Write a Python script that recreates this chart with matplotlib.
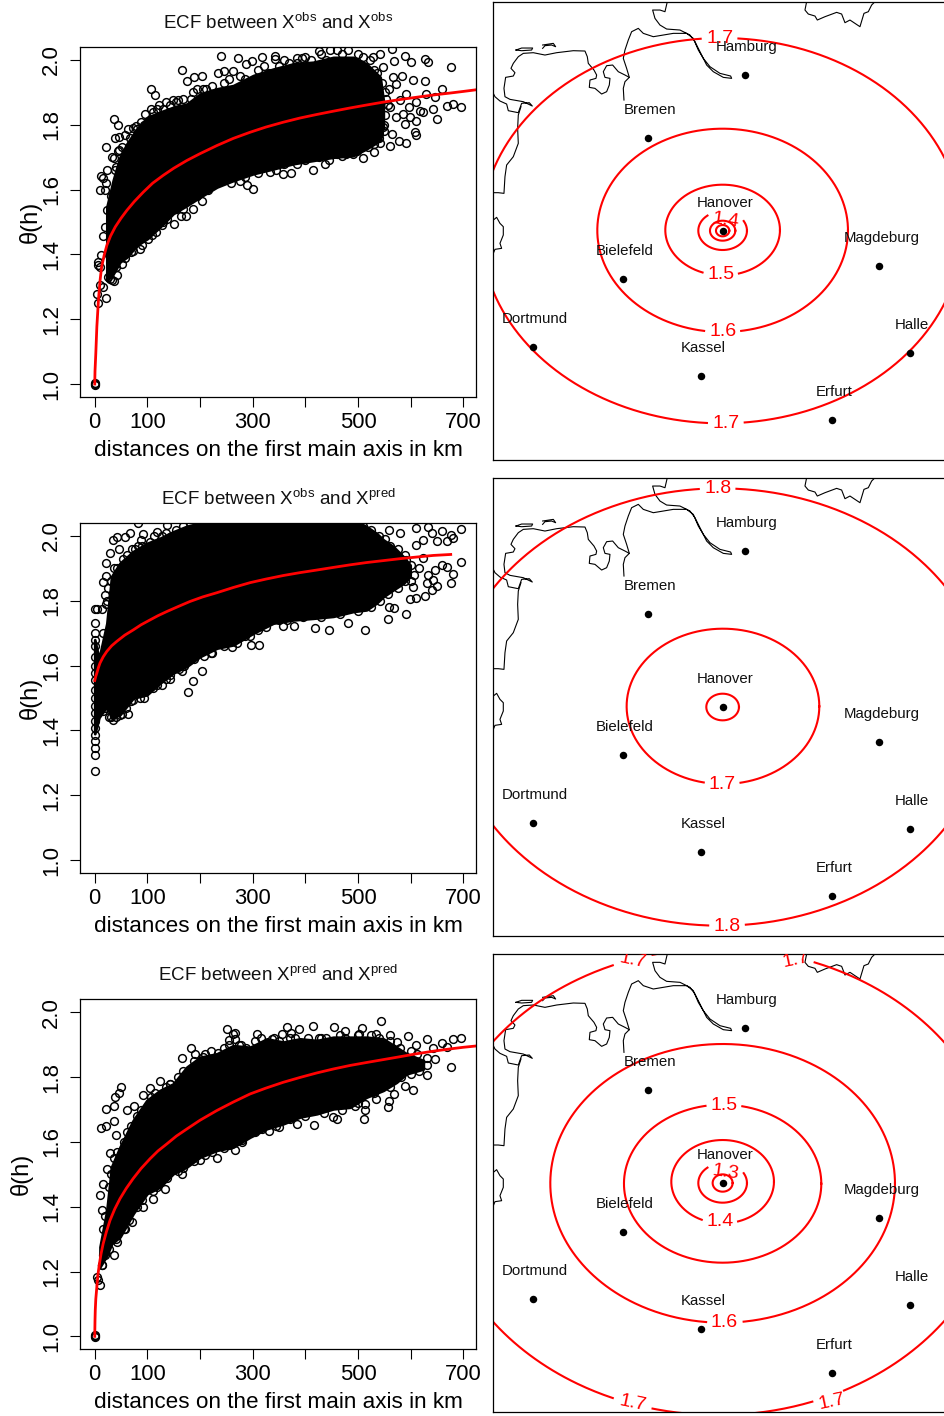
import numpy as np
import matplotlib
matplotlib.use('Agg')
import matplotlib.pyplot as plt

plt.rcParams['font.family'] = ['Liberation Sans', 'DejaVu Sans']
plt.rcParams['mathtext.default'] = 'regular'

# ---- left column: dense part of each cloud, read as upper / lower edge (km, theta)
cloud1_km = [23, 35, 48, 61, 80, 100, 124, 149, 175, 200, 232, 263, 301, 339, 377, 415, 453, 491, 516, 542, 548]
cloud1_up = [1.546, 1.628, 1.70, 1.741, 1.787, 1.823, 1.839, 1.854, 1.864, 1.895, 1.911, 1.921, 1.952, 1.972, 1.988, 1.993, 2.008, 2.008, 1.988, 1.947, 1.875]
cloud1_lo = [1.32, 1.34, 1.377, 1.392, 1.428, 1.449, 1.485, 1.526, 1.551, 1.577, 1.608, 1.628, 1.649, 1.664, 1.68, 1.69, 1.70, 1.705, 1.726, 1.752, 1.793]

cloud2_km = [0, 8, 23, 32, 48, 73, 99, 124, 149, 175, 200, 232, 263, 301, 339, 377, 415, 453, 491, 516, 535, 548, 567, 586, 599]
cloud2_up = [1.68, 1.62, 1.73, 1.875, 1.916, 1.952, 1.977, 1.993, 2.013, 2.03, 2.04, 2.05, 2.05, 2.05, 2.05, 2.05, 2.05, 2.05, 2.05, 2.029, 2.008, 1.988, 1.967, 1.936, 1.91]
cloud2_lo = [1.39, 1.44, 1.474, 1.438, 1.449, 1.50, 1.51, 1.546, 1.577, 1.598, 1.628, 1.654, 1.664, 1.70, 1.731, 1.741, 1.746, 1.752, 1.767, 1.772, 1.793, 1.813, 1.834, 1.854, 1.875]

cloud3_km = [10, 23, 32, 48, 73, 99, 124, 149, 175, 200, 232, 263, 295, 327, 358, 390, 422, 453, 485, 516, 548, 573, 592, 624]
cloud3_up = [1.276, 1.389, 1.523, 1.584, 1.666, 1.728, 1.759, 1.779, 1.831, 1.861, 1.872, 1.897, 1.892, 1.918, 1.908, 1.918, 1.913, 1.923, 1.923, 1.923, 1.918, 1.892, 1.872, 1.851]
cloud3_lo = [1.215, 1.25, 1.286, 1.307, 1.379, 1.44, 1.461, 1.502, 1.523, 1.553, 1.574, 1.584, 1.615, 1.641, 1.656, 1.677, 1.687, 1.702, 1.707, 1.738, 1.759, 1.784, 1.81, 1.825]

# ---- circles along the rim of the dense part
rim1_km = [30, 38, 44, 52, 58, 66, 72, 88, 94, 110, 118, 130, 136, 155, 168, 182, 194, 212, 222, 245, 255, 275, 285, 310, 322, 330, 350, 360, 385, 400, 410, 430, 440, 460, 470, 480, 500, 510, 522, 530, 536, 545, 552, 556, 552, 549,
           26, 32, 41, 52, 58, 72, 90, 108, 116, 128, 138, 155, 168, 180, 195, 215, 225, 245, 258, 270, 285, 310, 320, 345, 360, 385, 400, 425, 445, 460, 478, 498, 518, 530, 540, 550]
rim1_th = [1.58, 1.66, 1.72, 1.73, 1.77, 1.76, 1.79, 1.81, 1.80, 1.84, 1.85, 1.85, 1.87, 1.87, 1.88, 1.88, 1.91, 1.91, 1.92, 1.93, 1.94, 1.95, 1.94, 1.97, 1.98, 1.96, 1.98, 2.0, 1.99, 2.01, 2.0, 2.02, 2.0, 2.03, 2.02, 2.03, 2.02, 2.01, 2.0, 1.97, 1.96, 1.93, 1.90, 1.86, 1.83, 1.80,
           1.33, 1.32, 1.36, 1.37, 1.39, 1.41, 1.43, 1.46, 1.47, 1.49, 1.51, 1.54, 1.54, 1.57, 1.58, 1.60, 1.62, 1.63, 1.62, 1.65, 1.64, 1.65, 1.67, 1.66, 1.68, 1.68, 1.69, 1.70, 1.69, 1.71, 1.71, 1.72, 1.73, 1.74, 1.76, 1.78]

rim2_km = [16, 22, 26, 30, 36, 42, 54, 62, 70, 82, 90, 104, 112, 128, 136, 155, 168, 180, 510, 525, 540, 552, 560, 575, 590, 600, 606, 600,
           16, 20, 30, 40, 52, 60, 68, 85, 92, 110, 118, 135, 142, 160, 170, 188, 208, 220, 245, 270, 285, 310, 325, 350, 365, 395, 430, 465, 500, 525, 542, 556, 575, 590]
rim2_th = [1.70, 1.79, 1.84, 1.86, 1.90, 1.90, 1.93, 1.94, 1.96, 1.97, 1.97, 1.98, 2.0, 2.0, 2.01, 2.02, 2.03, 2.04, 2.03, 2.02, 2.0, 1.99, 1.97, 1.96, 1.94, 1.91, 1.88, 1.86,
           1.46, 1.47, 1.44, 1.44, 1.45, 1.47, 1.49, 1.50, 1.52, 1.53, 1.54, 1.56, 1.57, 1.59, 1.60, 1.62, 1.63, 1.64, 1.66, 1.67, 1.69, 1.71, 1.72, 1.74, 1.74, 1.75, 1.75, 1.76, 1.77, 1.78, 1.80, 1.82, 1.84, 1.86]

rim3_km = [16, 20, 27, 30, 36, 42, 55, 62, 68, 80, 88, 106, 115, 135, 142, 158, 168, 188, 210, 220, 245, 255, 278, 288, 305, 315, 340, 350, 370, 380, 405, 430, 440, 465, 475, 500, 525, 540, 560, 580, 600, 612, 630,
           14, 20, 28, 40, 55, 65, 80, 90, 110, 118, 138, 158, 168, 188, 210, 222, 245, 255, 280, 305, 318, 345, 370, 400, 435, 470, 500, 530, 560, 582, 600, 615]
rim3_th = [1.33, 1.37, 1.46, 1.50, 1.55, 1.57, 1.60, 1.63, 1.65, 1.68, 1.70, 1.74, 1.75, 1.77, 1.78, 1.80, 1.82, 1.85, 1.87, 1.88, 1.89, 1.90, 1.90, 1.89, 1.91, 1.92, 1.92, 1.91, 1.92, 1.92, 1.92, 1.92, 1.92, 1.93, 1.92, 1.93, 1.93, 1.92, 1.91, 1.89, 1.88, 1.87, 1.86,
           1.22, 1.25, 1.27, 1.30, 1.33, 1.36, 1.40, 1.42, 1.45, 1.46, 1.49, 1.51, 1.52, 1.54, 1.56, 1.57, 1.58, 1.59, 1.60, 1.63, 1.64, 1.65, 1.67, 1.68, 1.69, 1.70, 1.72, 1.75, 1.77, 1.80, 1.81, 1.82]

# ---- single circles that stand clear of the dense part
pts1_km = [0, 0, 1, 21, 5, 7, 10, 16, 7, 12, 6, 10, 43, 37, 29, 68, 85, 16, 20, 23, 10, 20, 12, 16, 23, 22, 21, 32, 37, 36, 45, 39, 47, 47, 40,
           64, 78, 81, 96, 106, 106, 115, 122, 142, 149, 158, 165, 175, 189, 204, 187, 206, 235, 239, 246, 263, 272, 287, 298, 317, 342, 342, 368, 384, 393, 425, 447,
           542, 564, 569, 589, 601, 627, 633, 676, 660, 629, 604, 627, 591, 583, 567, 558, 580, 596, 611, 646, 643, 668, 680, 696, 649, 624, 611, 589, 608, 610, 591, 578, 561, 542, 530, 510, 491, 469, 437, 414, 373, 357, 333, 301, 289, 276, 203, 187, 173, 163, 151, 130, 101,
           554, 573, 564, 548, 573, 548, 529, 599, 618, 561, 586, 539]
pts1_th = [1.0, 1.003, 0.998, 1.266, 1.279, 1.25, 1.305, 1.298, 1.377, 1.397, 1.367, 1.361, 1.338, 1.317, 1.325, 1.406, 1.416, 1.456, 1.485, 1.538, 1.60, 1.60, 1.641, 1.637, 1.659, 1.62, 1.73, 1.70, 1.698, 1.819, 1.799, 1.759, 1.762, 1.721, 1.669,
           1.787, 1.795, 1.787, 1.834, 1.849, 1.912, 1.891, 1.861, 1.861, 1.877, 1.875, 1.97, 1.936, 1.947, 1.951, 1.902, 1.911, 1.961, 2.012, 1.965, 1.965, 2.005, 1.988, 1.998, 2.008, 2.013, 2.003, 1.99, 2.006, 2.006, 2.029, 2.031,
           2.018, 2.034, 1.998, 2.013, 1.993, 2.003, 1.993, 1.977, 1.911, 1.895, 1.938, 1.934, 1.895, 1.952, 1.947, 1.911, 1.875, 1.854, 1.87, 1.885, 1.849, 1.858, 1.864, 1.856, 1.818, 1.839, 1.813, 1.803, 1.777, 1.767, 1.744, 1.751, 1.736, 1.743, 1.716, 1.697, 1.71, 1.703, 1.678, 1.662, 1.651, 1.649, 1.654, 1.603, 1.613, 1.628, 1.565, 1.541, 1.518, 1.518, 1.495, 1.50, 1.447,
           1.88, 1.823, 1.772, 1.793, 1.926, 1.977, 2.008, 1.823, 1.844, 1.854, 1.834, 1.772]

pts2_km = [0, 1, 1, 1, 1, 0, 0, 1, 0, 0, 0, 0, 0, 0, 1, 1, 1, 1, 1, 1, 4,
           13, 22, 16, 22, 29, 20, 23, 35, 42, 47, 58, 67, 77, 87, 92, 82, 118, 143, 137,
           558, 580, 610, 633, 641, 660, 677, 696, 680, 668, 649, 624, 611, 696, 680, 676, 668, 659, 646, 643, 649, 640, 627, 611, 599, 591, 569, 558, 556, 513, 480, 444, 418, 378, 358, 312, 296, 294, 260, 223, 203, 187, 177, 165, 143, 127, 94, 73, 64, 48, 35, 27,
           592, 615, 630, 624, 633, 604]
pts2_th = [1.276, 1.325, 1.346, 1.367, 1.387, 1.408, 1.428, 1.454, 1.474, 1.50, 1.526, 1.556, 1.577, 1.598, 1.628, 1.659, 1.68, 1.70, 1.731, 1.775, 1.775,
           1.775, 1.916, 1.859, 1.875, 1.948, 1.818, 1.798, 1.988, 1.998, 1.959, 1.998, 2.008, 1.959, 1.988, 2.006, 2.039, 2.013, 1.998, 2.034,
           2.018, 2.008, 2.024, 2.029, 2.008, 2.015, 2.003, 2.022, 1.993, 1.985, 1.983, 1.988, 1.972, 1.921, 1.882, 1.854, 1.903, 1.911, 1.895, 1.864, 1.846, 1.832, 1.816, 1.808, 1.805, 1.76, 1.777, 1.782, 1.744, 1.709, 1.733, 1.71, 1.715, 1.721, 1.721, 1.664, 1.664, 1.692, 1.656, 1.639, 1.582, 1.554, 1.52, 1.582, 1.56, 1.539, 1.50, 1.495, 1.451, 1.448, 1.433, 1.441,
           1.926, 1.90, 1.854, 1.931, 1.88, 1.844]

pts3_km = [0, 0, 1, 4, 10, 7, 13, 37, 16, 43, 13, 10, 16, 24, 12, 22, 37, 40, 21, 37, 39, 47, 49, 29, 61, 75, 91, 105, 124, 143, 165, 183, 190, 206, 235, 252, 263, 266, 254, 266, 273, 309, 336, 355, 366, 372, 388, 414, 425, 455, 476, 501, 507, 535, 544, 560, 574, 595, 611, 630, 643, 659, 680, 696, 668, 676, 646, 630, 630, 605, 589, 569, 559, 556, 534, 513, 513, 511, 494, 460, 453, 417, 384, 349, 330, 279, 266, 232, 200, 165, 134, 111, 92, 70, 58]
pts3_th = [1.0, 1.003, 0.998, 1.184, 1.158, 1.174, 1.22, 1.25, 1.25, 1.292, 1.389, 1.437, 1.471, 1.517, 1.644, 1.648, 1.665, 1.62, 1.701, 1.71, 1.74, 1.75, 1.769, 1.566, 1.697, 1.711, 1.746, 1.767, 1.787, 1.779, 1.858, 1.891, 1.87, 1.863, 1.874, 1.947, 1.933, 1.936, 1.913, 1.918, 1.90, 1.934, 1.918, 1.933, 1.956, 1.936, 1.948, 1.958, 1.921, 1.954, 1.943, 1.933, 1.951, 1.933, 1.974, 1.931, 1.908, 1.928, 1.90, 1.917, 1.89, 1.904, 1.917, 1.922, 1.892, 1.832, 1.856, 1.808, 1.836, 1.761, 1.774, 1.748, 1.726, 1.707, 1.733, 1.718, 1.697, 1.671, 1.712, 1.671, 1.677, 1.653, 1.656, 1.646, 1.635, 1.605, 1.574, 1.55, 1.543, 1.502, 1.456, 1.425, 1.40, 1.353, 1.33]

# ---- fitted red curves
fit1_km = [0, 0.5, 2, 4, 7, 10, 13, 18, 23, 30, 39, 50, 61, 75, 92, 110, 130, 150, 175, 200, 232, 263, 295, 325, 358, 390, 422, 453, 485, 516, 548, 580, 611, 643, 675, 700, 724]
fit1_th = [1.0, 1.04, 1.094, 1.177, 1.259, 1.318, 1.361, 1.398, 1.428, 1.457, 1.485, 1.512, 1.536, 1.563, 1.592, 1.62, 1.644, 1.666, 1.69, 1.711, 1.736, 1.758, 1.777, 1.793, 1.808, 1.821, 1.832, 1.842, 1.852, 1.861, 1.87, 1.878, 1.885, 1.892, 1.898, 1.903, 1.908]
fit2_km = [0, 2, 4, 7, 10, 16, 23, 32, 42, 57, 73, 88, 105, 120, 137, 158, 181, 205, 232, 263, 295, 325, 358, 390, 422, 453, 485, 516, 548, 580, 611, 643, 676]
fit2_th = [1.554, 1.567, 1.577, 1.594, 1.608, 1.627, 1.644, 1.661, 1.675, 1.694, 1.71, 1.726, 1.741, 1.754, 1.767, 1.782, 1.798, 1.812, 1.825, 1.841, 1.856, 1.867, 1.878, 1.887, 1.895, 1.903, 1.911, 1.918, 1.924, 1.93, 1.935, 1.94, 1.943]
fit3_km = [0, 0.5, 1, 2, 4, 6, 9, 12, 16, 22, 29, 38, 48, 60, 73, 88, 105, 120, 137, 155, 175, 200, 232, 263, 295, 325, 358, 390, 422, 453, 485, 516, 548, 580, 611, 643, 675, 700, 724]
fit3_th = [1.0, 1.05, 1.081, 1.115, 1.153, 1.19, 1.225, 1.255, 1.286, 1.322, 1.358, 1.393, 1.425, 1.457, 1.487, 1.518, 1.548, 1.572, 1.594, 1.618, 1.64, 1.667, 1.697, 1.723, 1.748, 1.766, 1.784, 1.799, 1.813, 1.825, 1.836, 1.845, 1.854, 1.863, 1.872, 1.88, 1.887, 1.892, 1.896]

# ---- right column: map units
city_names = ['Hamburg', 'Bremen', 'Hanover', 'Magdeburg', 'Bielefeld', 'Dortmund', 'Kassel', 'Halle', 'Erfurt']
city_x = [765, 475, 698, 1168, 398, 129, 633, 1260, 1027]
city_y = [226, 414, 692, 797, 838, 1041, 1129, 1058, 1261]

coast_main_x = [10, 15, 30, 50, 55, 85, 95, 118, 127, 100, 60, 45, 42, 47, 70, 75, 63, 70, 85, 100, 130, 165, 200, 250, 285, 292, 295, 312, 320, 318, 300, 298, 315, 335, 350, 358, 360, 345, 340, 350, 368, 385, 405, 418, 405, 400, 402]
coast_main_y = [280, 290, 303, 312, 332, 338, 310, 308, 318, 305, 298, 290, 265, 232, 228, 218, 205, 190, 170, 160, 158, 165, 158, 152, 153, 170, 190, 210, 225, 235, 240, 262, 265, 282, 275, 255, 235, 232, 215, 197, 195, 215, 225, 232, 245, 265, 300]
coast_elbe_x = [418, 410, 400, 405, 415, 425, 445, 460, 490, 520, 550, 590, 610, 625, 640, 660, 690, 722, 725, 700, 670, 650, 635, 615, 600, 570, 530, 510, 495, 488, 510, 525, 532]
coast_elbe_y = [232, 205, 175, 150, 120, 95, 85, 100, 110, 105, 100, 100, 115, 150, 175, 200, 220, 228, 235, 232, 215, 195, 165, 125, 105, 90, 87, 75, 55, 30, 30, 35, 5]
coast_ems_x = [93, 85, 83, 85, 70, 50, 45, 42, 25, 10]
coast_ems_y = [320, 345, 385, 430, 470, 495, 530, 580, 578, 578]
coast_left_x = [10, 20, 30, 40, 40, 30, 35, 15, 10]
coast_left_y = [660, 652, 670, 680, 705, 730, 745, 748, 760]
coast_top_x = [950, 945, 955, 975, 982, 1005, 1040, 1055, 1065, 1080, 1095, 1110, 1122, 1135, 1145, 1155]
coast_top_y = [5, 30, 42, 48, 60, 50, 37, 42, 68, 60, 70, 80, 40, 35, 15, 5]
island1_x = [78, 95, 128, 125, 95, 78]
island1_y = [150, 144, 144, 150, 152, 150]
island2_x = [158, 190, 197, 185, 165, 158]
island2_y = [135, 130, 140, 135, 137, 145]

# contour rings: centre x, centre y, half width, half height
rings1 = [(695, 692, 722, 578), (698, 691, 376, 305), (698, 690, 172, 136), (698, 692, 73, 58), (698, 692, 38, 30), (698, 692, 20, 17)]
rings2 = [(690, 693, 810, 656), (699, 691, 289, 233), (698, 693, 49, 40)]
rings3 = [(685, 688, 845, 700), (698, 693, 517, 418), (698, 694, 296, 237), (698, 688, 154, 125), (698, 692, 73, 59), (698, 692, 30, 26)]

# contour labels: text, x, y, rotation, index of the ring they sit on
labels1 = [('1.7', 690, 115, 0, 0), ('1.7', 708, 1270, 0, 0), ('1.6', 698, 995, 0, 1), ('1.5', 692, 823, 0, 2), ('1.4', 707, 660, -8, 3)]
labels2 = [('1.8', 685, 38, 0, 0), ('1.8', 712, 1350, 0, 0), ('1.7', 697, 924, 0, 1)]
labels3 = [('1.7', 428, 23, -12, 0), ('1.7', 917, 23, 12, 0), ('1.7', 428, 1353, -12, 0), ('1.7', 1025, 1348, 12, 0),
           ('1.6', 703, 1111, 0, 1), ('1.5', 702, 459, 0, 2), ('1.4', 690, 808, 0, 3), ('1.3', 707, 661, -8, 4)]

W, H = 944, 1416
fig = plt.figure(figsize=(W / 100, H / 100), dpi=100)


def px_axes(left, top, right, bottom):
    return fig.add_axes([left / W, 1 - bottom / H, (right - left) / W, (bottom - top) / H])


def ecf_panel(top, bottom, title, km, up, lo, rim_km, rim_th, pts_km, pts_th, fit_km, fit_th, ylab_x):
    ax = px_axes(80, top, 476, bottom)
    ax.fill_between(km, lo, up, color='black', lw=2)
    ax.plot(rim_km, rim_th, 'o', mfc='none', mec='black', ms=5.6, mew=1.05)
    ax.plot(pts_km, pts_th, 'o', mfc='none', mec='black', ms=5.6, mew=1.05)
    ax.plot(fit_km, fit_th, color='#ff0000', lw=2)
    ax.set_xlim(-28, 724)
    ax.set_ylim(0.961, 2.041)
    ax.set_xticks(range(0, 800, 100))
    ax.set_xticklabels(['0', '100', '', '300', '', '500', '', '700'], fontsize=15.8)
    ax.set_yticks([1.0, 1.2, 1.4, 1.6, 1.8, 2.0])
    ax.set_yticklabels(['1.0', '1.2', '1.4', '1.6', '1.8', '2.0'], fontsize=16, rotation=90, va='center')
    ax.tick_params(axis='x', length=7, width=0.8, pad=4)
    ax.tick_params(axis='y', length=7, width=0.8, pad=6)
    for s in ax.spines.values():
        s.set_linewidth(0.9)
    fig.text(278 / W, 1 - (top - 24) / H, title, ha='center', va='center', fontsize=13.5, color='#111111')
    fig.text(278 / W, 1 - (bottom + 54) / H, 'distances on the first main axis in km', ha='center', va='center', fontsize=16.2)
    fig.text(ylab_x / W, 1 - (top + bottom) / 2 / H, 'θ(h)', rotation=90, ha='center', va='center', fontsize=17)
    return ax


def map_panel(top, bottom, ybot, rings, labels):
    ax = px_axes(493.3, top, 947.3, bottom)
    for xs, ys in [(coast_main_x, coast_main_y), (coast_elbe_x, coast_elbe_y), (coast_ems_x, coast_ems_y),
                   (coast_left_x, coast_left_y), (coast_top_x, coast_top_y), (island1_x, island1_y), (island2_x, island2_y)]:
        ax.plot(xs, ys, color='black', lw=0.8)
    t = np.linspace(0, 2 * np.pi, 721)
    for i, (cx, cy, rx, ry) in enumerate(rings):
        x = cx + rx * np.cos(t)
        y = cy + ry * np.sin(t)
        # contour line stops around its own label
        for txt, lx, ly, rot, ring in labels:
            if ring == i:
                near = (np.abs(x - lx) < 54) & (np.abs(y - ly) < 32)
                x[near] = np.nan
        ax.plot(x, y, color='#ff0000', lw=1.5)
    for txt, lx, ly, rot, ring in labels:
        ax.text(lx, ly, txt, color='#ff0000', fontsize=14, ha='center', va='center', rotation=rot, clip_on=True)
    ax.plot(city_x, city_y, 'o', color='black', ms=5.4, mew=0)
    for name, cx, cy in zip(city_names, city_x, city_y):
        ax.text(cx + 6, cy - 84, name, fontsize=10.8, ha='center', va='center', color='#111111')
    ax.set_xlim(10, 1372)
    ax.set_ylim(ybot, 5)
    ax.set_xticks([])
    ax.set_yticks([])
    for s in ax.spines.values():
        s.set_linewidth(0.9)
    return ax


ecf_panel(46.7, 396.7, 'ECF between $X^{obs}$ and $X^{obs}$', cloud1_km, cloud1_up, cloud1_lo, rim1_km, rim1_th, pts1_km, pts1_th, fit1_km, fit1_th, 30)
ecf_panel(522.7, 872.7, 'ECF between $X^{obs}$ and $X^{pred}$', cloud2_km, cloud2_up, cloud2_lo, rim2_km, rim2_th, pts2_km, pts2_th, fit2_km, fit2_th, 30)
ecf_panel(999, 1349, 'ECF between $X^{pred}$ and $X^{pred}$', cloud3_km, cloud3_up, cloud3_lo, rim3_km, rim3_th, pts3_km, pts3_th, fit3_km, fit3_th, 21)

map_panel(1.7, 460, 1380, rings1, labels1)
map_panel(477.7, 936, 1380, rings2, labels2)
map_panel(954, 1411.7, 1378, rings3, labels3)

fig.savefig('out.png', dpi=100)
